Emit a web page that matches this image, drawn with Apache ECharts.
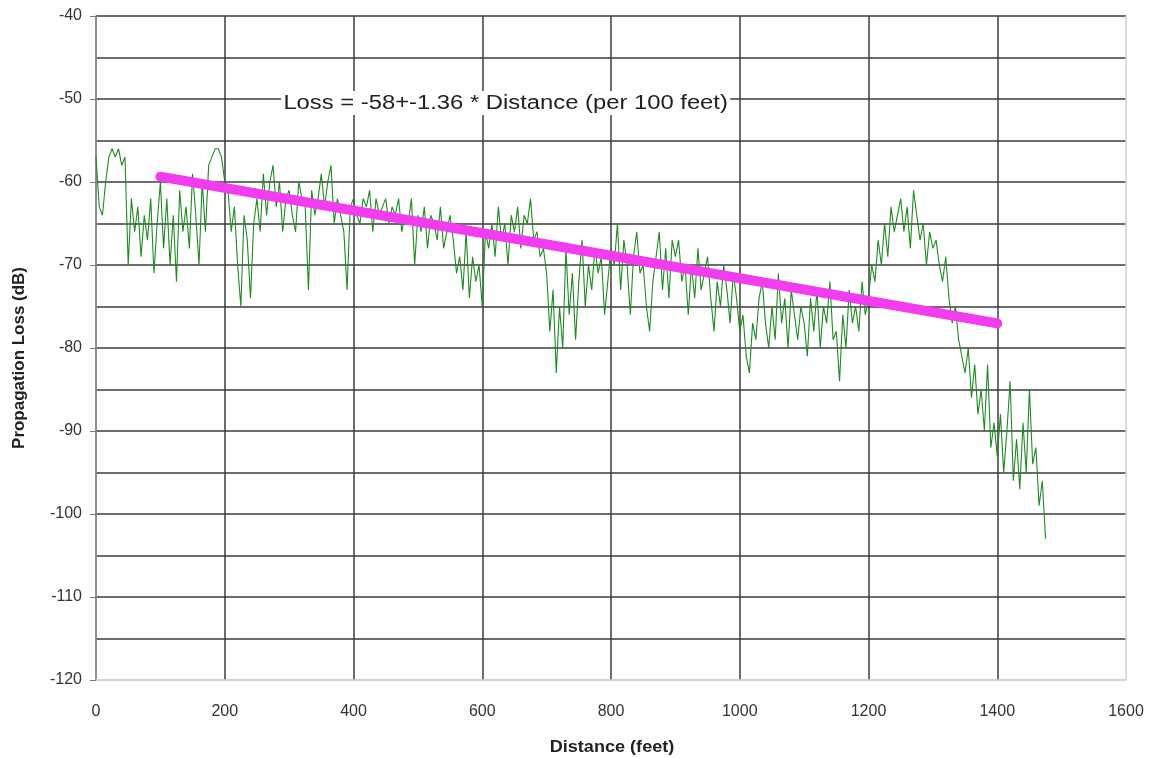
<!DOCTYPE html>
<html>
<head>
<meta charset="utf-8">
<script src="https://cdn.jsdelivr.net/npm/echarts@6/dist/echarts.min.js"></script>
<style>
html,body{margin:0;padding:0;background:#fff;}
#chart{width:1155px;height:758px;}
</style>
</head>
<body>
<div id="chart"></div>
<script>
// Distance start and step (feet) for measured samples
const distStart = 0;
const distStep = 5;
// Measured propagation loss (dB), one value per 5 feet
const lossValues = [
  -57,-63,-64,-60,-57,-56,-57,-56,-58,-57,
  -70,-62,-66,-63,-69,-64,-67,-62,-71,-65,
  -60,-68,-62,-70,-64,-72,-61,-66,-63,-68,
  -59,-64,-70,-60,-66,-58,-57,-56,-56,-57,
  -60,-61,-66,-63,-70,-75,-64,-67,-74,-65,
  -62,-66,-59,-64,-60,-58,-63,-60,-66,-62,
  -61,-64,-66,-60,-62,-63,-73,-61,-64,-62,
  -59,-63,-60,-58,-65,-62,-64,-66,-73,-63,
  -62,-64,-65,-62,-63,-61,-66,-62,-64,-63,
  -62,-65,-63,-64,-62,-66,-64,-65,-62,-70,
  -64,-66,-63,-68,-64,-65,-67,-63,-68,-66,
  -64,-67,-71,-69,-73,-66,-74,-69,-72,-70,
  -75,-66,-68,-65,-69,-63,-67,-65,-70,-64,
  -66,-63,-68,-64,-65,-62,-67,-66,-69,-68,
  -71,-78,-73,-83,-75,-80,-68,-76,-71,-79,
  -72,-67,-75,-70,-73,-68,-71,-69,-76,-72,
  -68,-70,-65,-73,-67,-70,-76,-69,-66,-71,
  -70,-75,-78,-72,-69,-66,-73,-68,-74,-67,
  -69,-67,-72,-70,-76,-70,-74,-68,-73,-71,
  -69,-74,-78,-72,-75,-70,-73,-77,-71,-74,
  -78,-76,-81,-83,-77,-79,-74,-72,-77,-80,
  -75,-79,-71,-77,-74,-80,-73,-76,-79,-75,
  -77,-81,-74,-78,-73,-80,-75,-77,-72,-79,
  -78,-84,-76,-80,-73,-77,-75,-78,-72,-76,
  -74,-70,-72,-67,-70,-65,-69,-63,-66,-64,
  -62,-66,-63,-68,-61,-64,-67,-65,-70,-66,
  -68,-67,-70,-72,-69,-74,-77,-75,-79,-81,
  -83,-80,-86,-82,-88,-85,-90,-82,-92,-89,
  -93,-88,-95,-90,-84,-96,-91,-97,-89,-95,
  -85,-94,-92,-99,-96,-103
];
// Fit line endpoints: Loss = -58 + -1.36 * Distance/100
const fitDistances = [100, 1400];
const fitLoss = [-59.36, -77.04];
// Axis settings
const xTicks = [0, 200, 400, 600, 800, 1000, 1200, 1400, 1600];
const yTicks = [-120, -110, -100, -90, -80, -70, -60, -50, -40];
const annotation = 'Loss = -58+-1.36 * Distance (per 100 feet)';
const xName = 'Distance (feet)';
const yName = 'Propagation Loss (dB)';

const measured = lossValues.map((v, i) => [distStart + i * distStep, v]);
const fit = fitDistances.map((d, i) => [d, fitLoss[i]]);

const dark = '#3c3c3c', light = '#d2d2d2';
const xSplitColors = xTicks.map((t, i) => i === xTicks.length - 1 ? light : dark);
const ySplitColors = yTicks.map((t, i) => i === 0 ? light : dark);

const chart = echarts.init(document.getElementById('chart'), null, {renderer: 'canvas'});
const font = '"Liberation Sans", Arial, sans-serif';
chart.setOption({
  animation: false,
  backgroundColor: '#fff',
  grid: {left: 96, right: 29, top: 16, bottom: 78},
  xAxis: {
    type: 'value', min: xTicks[0], max: xTicks[xTicks.length - 1], interval: 200,
    axisLine: {show: true, lineStyle: {color: light, width: 1.5}},
    axisTick: {show: false},
    axisLabel: {fontFamily: font, fontSize: 16, color: '#333', margin: 24,
      formatter: function (v) { return String(v); }},
    splitLine: {show: true, lineStyle: {color: xSplitColors, width: 1.5}}
  },
  yAxis: {
    type: 'value', min: yTicks[0], max: yTicks[yTicks.length - 1], interval: 10,
    axisLine: {show: true, lineStyle: {color: '#9a9a9a', width: 1.5}},
    axisTick: {show: true, length: 6, lineStyle: {color: '#777'}},
    axisLabel: {fontFamily: font, fontSize: 16, color: '#333', margin: 14,
      formatter: function (v) { return String(v); }},
    splitLine: {show: true, lineStyle: {color: ySplitColors, width: 1.5}},
    minorTick: {show: false, splitNumber: 2},
    minorSplitLine: {show: true, lineStyle: {color: dark, width: 1.5}}
  },
  series: [
    {
      type: 'line', data: measured, showSymbol: false, symbol: 'none',
      lineStyle: {color: '#1f8a22', width: 1.1}, z: 2
    },
    {
      type: 'line', data: fit, showSymbol: false, symbol: 'none',
      lineStyle: {color: '#f23cf0', width: 10, cap: 'round'}, z: 3
    }
  ],
  graphic: [
    {
      type: 'text', x: 281, y: 91, scaleX: 1.19, z: 10,
      style: {text: annotation, font: '20px ' + font, fill: '#222', backgroundColor: '#fff', padding: [2, 2]}
    },
    {
      type: 'text', x: 612, y: 748, z: 10, scaleX: 1.13,
      style: {text: xName, font: 'bold 16px ' + font, fill: '#222', align: 'center', verticalAlign: 'middle'}
    },
    {
      type: 'text', x: 20, y: 358, rotation: Math.PI / 2, z: 10, scaleX: 1.06,
      style: {text: yName, font: 'bold 16px ' + font, fill: '#222', align: 'center', verticalAlign: 'middle'}
    }
  ]
});
</script>
</body>
</html>
